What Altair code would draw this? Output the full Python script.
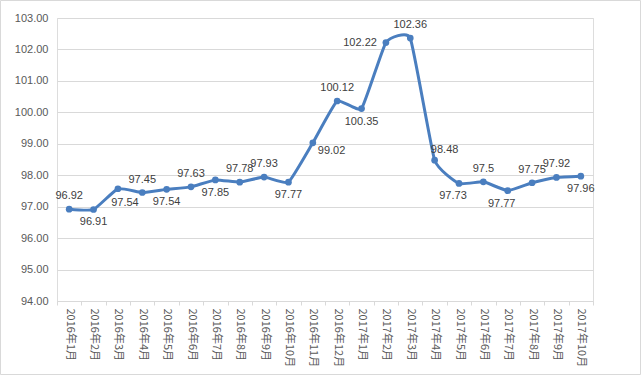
import altair as alt
import pandas as pd

months = ["2016年1月", "2016年2月", "2016年3月", "2016年4月", "2016年5月", "2016年6月",
          "2016年7月", "2016年8月", "2016年9月", "2016年10月", "2016年11月", "2016年12月",
          "2017年1月", "2017年2月", "2017年3月", "2017年4月", "2017年5月", "2017年6月",
          "2017年7月", "2017年8月", "2017年9月", "2017年10月"]
values = [96.92, 96.91, 97.57, 97.45, 97.55, 97.63, 97.85, 97.78, 97.94, 97.78, 99.03, 100.36,
          100.12, 102.22, 102.36, 98.48, 97.74, 97.79, 97.51, 97.76, 97.93, 97.97]
labels = ["96.92", "96.91", "97.54", "97.45", "97.54", "97.63", "97.85", "97.78", "97.93", "97.77",
          "99.02", "100.12", "100.35", "102.22", "102.36", "98.48", "97.73", "97.5", "97.77",
          "97.75", "97.92", "97.96"]
placement = ["above", "below", "belowright", "above", "below", "above", "below", "above", "above",
             "below", "right", "above", "below", "left", "above", "aboveright", "belowleft",
             "above", "belowleft", "above", "above", "below"]
y_ticks = [94, 95, 96, 97, 98, 99, 100, 101, 102, 103]

df = pd.DataFrame({"month": months, "value": values, "label": labels, "pos": placement})

LINE = "#4A7EBF"
GRID = "#D9D9D9"
FONT = "Liberation Sans"

x_enc = alt.X("month:N", sort=months, title=None,
              scale=alt.Scale(paddingInner=0, paddingOuter=0),
              axis=alt.Axis(labelAngle=90, labelFont="Noto Sans CJK SC", labelFontSize=11,
                            labelColor="#595959", domainColor=GRID, tickColor=GRID,
                            tickSize=4, tickBand="extent", labelPadding=3, grid=False))
y_enc = alt.Y("value:Q", title=None,
              scale=alt.Scale(domain=[94, 103], nice=False, zero=False),
              axis=alt.Axis(values=y_ticks, format=".2f", labelFont=FONT, labelFontSize=11,
                            labelColor="#595959", domain=False, ticks=False, gridColor=GRID,
                            labelPadding=9))

base = alt.Chart(df)

line = base.mark_line(interpolate="cardinal", tension=0.6, color=LINE, strokeWidth=3).encode(x=x_enc, y=y_enc)
pts = base.mark_point(filled=True, color=LINE, size=45, opacity=1).encode(x=x_enc, y=y_enc)

offsets = {
    "above": dict(dx=0, dy=-13, align="center"),
    "below": dict(dx=0, dy=13, align="center"),
    "belowright": dict(dx=7, dy=14, align="center"),
    "belowleft": dict(dx=-6, dy=13, align="center"),
    "right": dict(dx=5, dy=8, align="left"),
    "left": dict(dx=-9, dy=0, align="right"),
    "aboveright": dict(dx=10, dy=-10, align="center"),
}

text_layers = []
for key, o in offsets.items():
    text_layers.append(
        base.transform_filter(alt.datum.pos == key)
        .mark_text(font=FONT, fontSize=11, color="#404040", baseline="middle", **o)
        .encode(x=x_enc, y=y_enc, text="label:N")
    )

frame = alt.Chart(alt.Data(values=[{"a": 1}])).mark_rect(
    filled=False, stroke=GRID, strokeWidth=1
).encode(x=alt.value(-56.5), x2=alt.value(583.5), y=alt.value(-17.5), y2=alt.value(356.5))

chart = alt.layer(line, pts, *text_layers, frame).properties(
    width=536, height=283,
    autosize=alt.AutoSizeParams(type="none"),
    padding={"left": 57, "top": 18, "right": 50, "bottom": 75},
).configure_view(stroke=None).configure(background="white")

chart.save("out.html", embed_options={"renderer": "svg", "actions": False})
